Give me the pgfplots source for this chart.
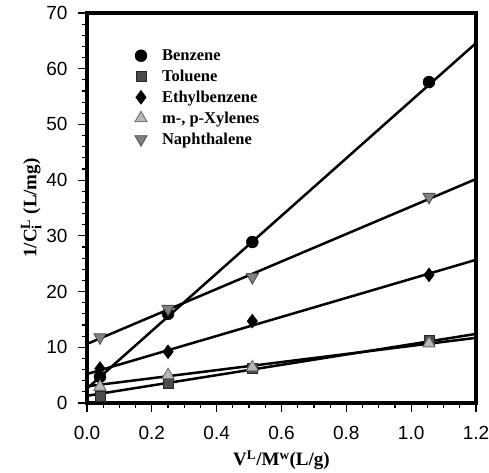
\documentclass[border=0pt]{standalone}
\usepackage{fontspec}
\setmainfont{Liberation Serif}
\newfontfamily\arialfont{Liberation Sans}
\usepackage{pgfplots}
\pgfplotsset{compat=1.18}

% measured points
\pgfplotstableread{
x y
0.04 4.7
0.25 16.0
0.51 28.9
1.055 57.6
}\benzene
\pgfplotstableread{
x y
0.04 1.1
0.25 3.6
0.51 6.2
1.055 11.2
}\toluene
\pgfplotstableread{
x y
0.04 6.2
0.25 9.2
0.51 14.7
1.055 23.0
}\ethyl
\pgfplotstableread{
x y
0.04 2.9
0.25 5.0
0.51 6.4
1.055 10.7
}\xylene
\pgfplotstableread{
x y
0.04 11.8
0.25 16.9
0.51 22.6
1.055 37.0
}\naph

\newcommand\scr[1]{\hbox{\fontsize{14}{14}\selectfont\bfseries #1}}
\newcommand\gap{\hspace{13pt}}

\begin{document}
\begin{tikzpicture}
\path[use as bounding box] (-87pt,-69pt) rectangle (402pt,403pt);
\begin{axis}[
  scale only axis,
  width=389pt, height=390pt,
  xmin=0, xmax=1.2, ymin=0, ymax=70,
  xtick={0,0.2,...,1.2}, ytick={0,10,...,70},
  minor x tick num=3, minor y tick num=4,
  xtick pos=left, ytick pos=left,
  tick align=outside,
  major tick length=9pt, minor tick length=5pt,
  every tick/.style={black, line width=1.2pt},
  axis line style={line width=3.8pt},
  /pgf/number format/assume math mode=true,
  ticklabel style={font=\arialfont\fontsize{19}{19}\selectfont},
  xticklabel style={yshift=-11pt, /pgf/number format/.cd, fixed, fixed zerofill, precision=1},
  yticklabel style={xshift=-7pt, /pgf/number format/.cd, fixed, precision=0},
  xlabel={\bfseries V\textsuperscript{L}/M\textsuperscript{w}(L/g)},
  ylabel={\bfseries 1/C$^{\scr{L}}_{\scr{i}}$\hspace{5pt}(L/mg)},
  label style={font=\fontsize{19}{19}\selectfont},
  xlabel style={yshift=-4pt},
  ylabel style={yshift=-2pt},
  legend style={draw=none, fill=none, at={(axis description cs:0.115,0.917)}, anchor=north west,
    font=\bfseries\fontsize{16.5}{16.5}\selectfont, row sep=4pt},
  legend cell align=left,
]
% fitted lines
\addplot[forget plot, black, line width=2.5pt] coordinates {(0,2.6) (1.2,64.6)};
\addplot[forget plot, black, line width=2.5pt] coordinates {(0,10.6) (1.2,40.2)};
\addplot[forget plot, black, line width=2.5pt] coordinates {(0,5.2) (1.2,25.7)};
\addplot[forget plot, black, line width=2.5pt] coordinates {(0,3.0) (1.2,11.7)};
\addplot[forget plot, black, line width=2.5pt] coordinates {(0,1.3) (1.2,12.4)};
% points
\addplot[only marks, mark=*, mark size=6pt, fill=black, draw=black] table {\benzene};
\addlegendentry{\gap Benzene}
\addplot[only marks, mark=square*, mark size=5pt, fill=black!70, draw=black!85, line width=0.8pt] table {\toluene};
\addlegendentry{\gap Toluene}
\addplot[only marks, mark=diamond*, mark size=7pt, fill=black, draw=black] table {\ethyl};
\addlegendentry{\gap Ethylbenzene}
\addplot[only marks, mark=triangle*, mark size=7pt, fill=black!28, draw=black!60, line width=0.8pt] table {\xylene};
\addlegendentry{\gap m-, p-Xylenes}
\addplot[only marks, mark=triangle*, mark options={rotate=180}, mark size=7pt, fill=black!50, draw=black!70, line width=0.8pt] table {\naph};
\addlegendentry{\gap Naphthalene}
\end{axis}
\end{tikzpicture}
\end{document}
